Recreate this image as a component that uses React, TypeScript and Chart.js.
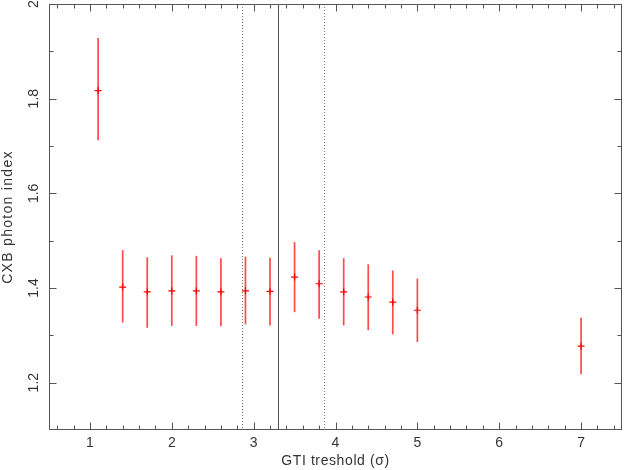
import React, { useEffect, useRef } from "react";
import { Chart, registerables } from "chart.js";

Chart.register(...registerables);

const xValues = [1.1, 1.4, 1.7, 2.0, 2.3, 2.6, 2.9, 3.2, 3.5, 3.8, 4.1, 4.4, 4.7, 5.0, 7.0];
const yValues = [1.817, 1.402, 1.392, 1.394, 1.394, 1.392, 1.394, 1.393, 1.423, 1.409, 1.392, 1.381, 1.370, 1.353, 1.277];
const yLow = [1.712, 1.327, 1.316, 1.320, 1.320, 1.319, 1.323, 1.321, 1.349, 1.335, 1.321, 1.311, 1.302, 1.286, 1.218];
const yHigh = [1.928, 1.480, 1.465, 1.469, 1.468, 1.463, 1.466, 1.464, 1.497, 1.480, 1.463, 1.450, 1.437, 1.420, 1.337];

const solidLines = [3.3];
const dottedLines = [2.86, 3.86];

const xTickValues = [1, 2, 3, 4, 5, 6, 7];
const xTickLabels = ["1", "2", "3", "4", "5", "6", "7"];
const yTickValues = [1.2, 1.4, 1.6, 1.8, 2.0];
const yTickLabels = ["1.2", "1.4", "1.6", "1.8", "2"];

const xTitle = "GTI treshold (\u03c3)";
const yTitle = "CXB photon index";

const FONT = '14px "Liberation Sans", Arial, sans-serif';
const TEXT_COLOR = "#333";
const AXIS_COLOR = "#555";

const decorPlugin = {
  id: "decor",
  beforeDatasetsDraw(chart: any) {
    const { ctx, chartArea: a, scales } = chart;
    const xs = scales.x;
    ctx.save();
    ctx.lineWidth = 1;
    ctx.strokeStyle = "#555";
    ctx.setLineDash([]);
    solidLines.forEach((v) => {
      const px = Math.round(xs.getPixelForValue(v)) + 0.5;
      ctx.beginPath();
      ctx.moveTo(px, a.top);
      ctx.lineTo(px, a.bottom);
      ctx.stroke();
    });
    ctx.strokeStyle = "#777";
    ctx.setLineDash([1, 2]);
    dottedLines.forEach((v) => {
      const px = Math.round(xs.getPixelForValue(v)) + 0.5;
      ctx.beginPath();
      ctx.moveTo(px, a.top);
      ctx.lineTo(px, a.bottom);
      ctx.stroke();
    });
    ctx.setLineDash([]);
    // error bars
    const ys = scales.y;
    ctx.strokeStyle = "rgba(255,30,30,0.8)";
    ctx.lineWidth = 1.7;
    xValues.forEach((x, i) => {
      const px = xs.getPixelForValue(x);
      ctx.beginPath();
      ctx.moveTo(px, ys.getPixelForValue(yHigh[i]));
      ctx.lineTo(px, ys.getPixelForValue(yLow[i]));
      ctx.stroke();
    });
    ctx.restore();
  },
  afterDraw(chart: any) {
    const { ctx, chartArea: a, scales } = chart;
    const xs = scales.x;
    const ys = scales.y;
    ctx.save();
    ctx.strokeStyle = AXIS_COLOR;
    ctx.lineWidth = 1;
    const L = Math.round(a.left) + 0.5;
    const R = Math.round(a.right) - 0.5;
    const T = Math.round(a.top) + 0.5;
    const B = Math.round(a.bottom) - 0.5;
    ctx.strokeRect(L, T, R - L, B - T);
    ctx.beginPath();
    for (let i = 3; i <= 37; i++) {
      const v = i / 5;
      const major = i % 5 === 0;
      const len = major ? 7 : 4;
      const px = Math.round(xs.getPixelForValue(v)) + 0.5;
      ctx.moveTo(px, B);
      ctx.lineTo(px, B - len);
      ctx.moveTo(px, T);
      ctx.lineTo(px, T + len);
    }
    for (let i = 12; i <= 19; i++) {
      const v = i / 10;
      const major = i % 2 === 0;
      const len = major ? 7 : 4;
      const py = Math.round(ys.getPixelForValue(v)) + 0.5;
      ctx.moveTo(L, py);
      ctx.lineTo(L + len, py);
      ctx.moveTo(R, py);
      ctx.lineTo(R - len, py);
    }
    ctx.stroke();

    ctx.fillStyle = TEXT_COLOR;
    ctx.font = FONT;
    ctx.textAlign = "center";
    ctx.textBaseline = "middle";
    xTickValues.forEach((v, i) => {
      ctx.fillText(xTickLabels[i], xs.getPixelForValue(v), a.bottom + 13);
    });
    yTickValues.forEach((v, i) => {
      ctx.save();
      ctx.translate(a.left - 15, ys.getPixelForValue(v));
      ctx.rotate(-Math.PI / 2);
      ctx.fillText(yTickLabels[i], 0, 0);
      ctx.restore();
    });
    (ctx as any).letterSpacing = "0.6px";
    ctx.fillText(xTitle, (a.left + a.right) / 2, a.bottom + 31);
    ctx.save();
    (ctx as any).letterSpacing = "1.3px";
    ctx.translate(8, (a.top + a.bottom) / 2);
    ctx.rotate(-Math.PI / 2);
    ctx.fillText(yTitle, 0, 0);
    ctx.restore();
    ctx.restore();
  },
};

export default function App() {
  const ref = useRef<HTMLCanvasElement>(null);
  useEffect(() => {
    if (!ref.current) return;
    const chart = new Chart(ref.current, {
      type: "scatter",
      data: {
        datasets: [
          {
            data: xValues.map((x, i) => ({ x, y: yValues[i] })),
            pointStyle: "cross",
            pointRadius: 3.5,
            pointHoverRadius: 3.5,
            borderColor: "rgb(255,0,0)",
            backgroundColor: "rgb(255,0,0)",
            pointBorderWidth: 1.2,
            showLine: false,
          },
        ],
      },
      options: {
        responsive: false,
        animation: false,
        events: [],
        layout: { autoPadding: false, padding: { top: 4, right: 2, left: 0, bottom: 0 } },
        plugins: { legend: { display: false }, tooltip: { enabled: false } },
        scales: {
          x: {
            type: "linear",
            min: 0.5,
            max: 7.5,
            grid: { display: false },
            border: { display: false },
            ticks: { display: false },
            afterFit: (s: any) => {
              s.height = 40;
            },
          },
          y: {
            type: "linear",
            min: 1.1,
            max: 2.0,
            grid: { display: false },
            border: { display: false },
            ticks: { display: false },
            afterFit: (s: any) => {
              s.width = 49;
            },
          },
        },
      },
      plugins: [decorPlugin],
    });
    return () => chart.destroy();
  }, []);
  return (
    <div style={{ position: "absolute", left: 0, top: 0, width: 624, height: 470, background: "#fff" }}>
      <canvas ref={ref} width={624} height={470} style={{ display: "block" }} />
    </div>
  );
}
